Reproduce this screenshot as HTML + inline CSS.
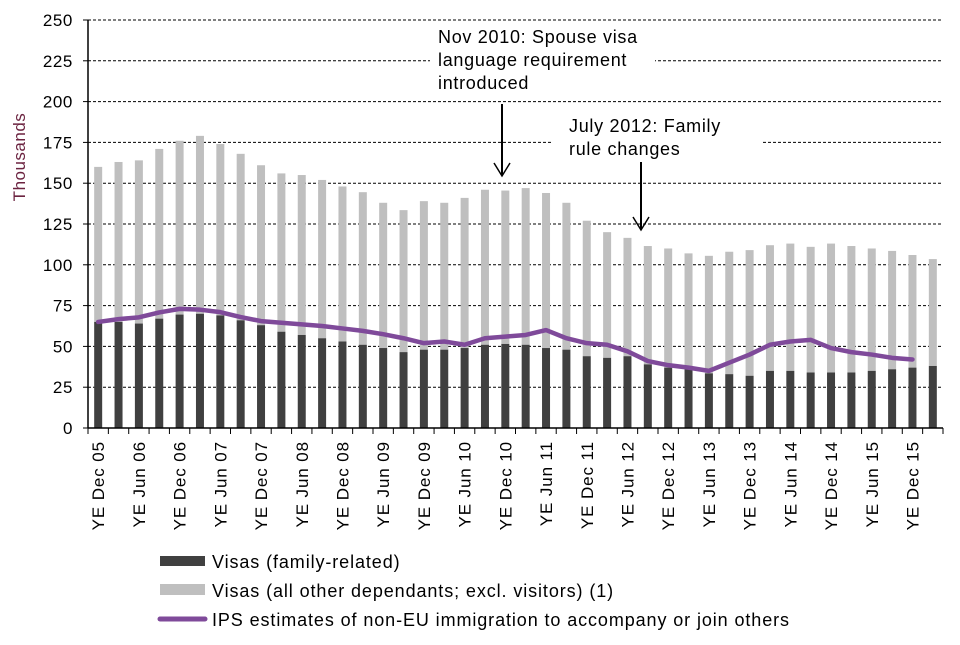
<!DOCTYPE html>
<html><head><meta charset="utf-8"><style>
body{margin:0;background:#fff;font-family:"Liberation Sans",Arial,sans-serif}
svg text{font-family:"Liberation Sans",Arial,sans-serif}
</style></head><body>
<svg id="chart" width="960" height="640" viewBox="0 0 960 640" xmlns="http://www.w3.org/2000/svg">
<g id="grid"></g>
<g id="bars"></g>
<g id="line"></g>
<g id="axes"></g>
<g font-size="18" letter-spacing="0.7">
<rect x="430" y="22" width="225" height="75" fill="#fff"/>
<text x="438" y="43">Nov 2010: Spouse visa</text>
<text x="438" y="66">language requirement</text>
<text x="438" y="89">introduced</text>
<line x1="502" y1="104" x2="502" y2="175" stroke="#000" stroke-width="2"/>
<polyline points="494,163 502,176 510,163" fill="none" stroke="#000" stroke-width="1.5"/>
</g>
<g font-size="18" letter-spacing="0.7">
<rect x="553" y="110" width="209" height="52" fill="#fff"/>
<text x="569" y="132">July 2012: Family</text>
<text x="569" y="155">rule changes</text>
<line x1="641" y1="162" x2="641" y2="229" stroke="#000" stroke-width="2"/>
<polyline points="633,217 641,230 649,217" fill="none" stroke="#000" stroke-width="1.5"/>
</g>
<text transform="translate(25,157) rotate(-90)" text-anchor="middle" font-size="17" letter-spacing="0.5" fill="#6b2340">Thousands</text>
<g font-size="18" letter-spacing="0.9">
<g><rect x="160" y="556" width="45" height="10" fill="#404040"/><text x="212" y="568">Visas (family-related)</text></g>
<g><rect x="160" y="584" width="45" height="11" fill="#bfbfbf"/><text x="212" y="597">Visas (all other dependants; excl. visitors) (1)</text></g>
<g><line x1="160" y1="619" x2="205" y2="619" stroke="#7f4a9a" stroke-width="5" stroke-linecap="round"/><text x="212" y="626">IPS estimates of non-EU immigration to accompany or join others</text></g>
</g>
</svg>
<script>
const totalVisas=[160,163,164,171,176,179,174,168,161,156,155,152,148,144.5,138,133.5,139,138,141,146,145.5,147,144,138,127,120,116.5,111.5,110,107,105.5,108,109,112,113,111,113,111.5,110,108.5,106,103.5];
const familyVisas=[65,65,64,67,69.5,70,69,66,63,59,57,55,53,51,49,46.5,48,48,49,51,51.5,51,49,48,44,43,44,39,37,36,33.5,33,32,35,35,34,34,34,35,36,37,38];
const ipsEstimates=[65,66.7,67.8,70.8,73,72.5,71,68,65.5,64.5,63.5,62.5,61,59.5,57.5,55,52,53,51,55,56,57,60,55,52,51,47,41,38.5,37,35,40,45,51,53,54,49,46.5,45,43,42,null];
const yTicks=[0,25,50,75,100,125,150,175,200,225,250];
const xLabels=["YE Dec 05","YE Jun 06","YE Dec 06","YE Jun 07","YE Dec 07","YE Jun 08","YE Dec 08","YE Jun 09","YE Dec 09","YE Jun 10","YE Dec 10","YE Jun 11","YE Dec 11","YE Jun 12","YE Dec 12","YE Jun 13","YE Dec 13","YE Jun 14","YE Dec 14","YE Jun 15","YE Dec 15"];
const NS="http://www.w3.org/2000/svg";
const X0=88,X1=943,Y0=428,Y1=20,N=totalVisas.length;
const step=(X1-X0)/N;
function xc(i){return X0+step*(i+0.5);}
function y(v){return Y0-(v/250)*(Y0-Y1);}
function mk(t,a,p){const e=document.createElementNS(NS,t);for(const k in a)e.setAttribute(k,a[k]);p.appendChild(e);return e;}
const grid=document.getElementById('grid'),bars=document.getElementById('bars'),line=document.getElementById('line'),axes=document.getElementById('axes');
yTicks.forEach(v=>{
 if(v>0){const g=mk('line',{x1:X0,x2:X1,y1:y(v),y2:y(v),stroke:'#000','stroke-width':1,'stroke-dasharray':'3,2'},grid);
 
 }
 const t=mk('text',{x:73,y:y(v)+6,'text-anchor':'end','font-size':17,'letter-spacing':0.6},axes);t.textContent=v;
 
 
 mk('line',{x1:X0-5,x2:X0,y1:y(v),y2:y(v),stroke:'#000'},axes);
});
for(let i=0;i<N;i++){
 const bw=8;
 const g=mk('rect',{x:xc(i)-bw/2,y:y(totalVisas[i]),width:bw,height:y(familyVisas[i])-y(totalVisas[i]),fill:'#bfbfbf'},bars);
 
 
 const d=mk('rect',{x:xc(i)-bw/2,y:y(familyVisas[i]),width:bw,height:Y0-y(familyVisas[i]),fill:'#404040'},bars);
 
 
}
let pts=[];ipsEstimates.forEach((v,i)=>{if(v!==null)pts.push(xc(i)+','+y(v));});
const pl=mk('polyline',{points:pts.join(' '),fill:'none',stroke:'#7f4a9a','stroke-width':4.5,'stroke-linejoin':'round','stroke-linecap':'round'},line);


mk('line',{x1:X0,x2:X0,y1:Y1,y2:Y0,stroke:'#000','stroke-width':1.5},axes);
mk('line',{x1:X0,x2:X1,y1:Y0,y2:Y0,stroke:'#000','stroke-width':1.5},axes);
for(let i=0;i<=N;i++)mk('line',{x1:X0+step*i,x2:X0+step*i,y1:Y0,y2:Y0+6,stroke:'#000'},axes);
xLabels.forEach((l,j)=>{
 const cx=xc(j*2);
 const t=mk('text',{transform:'translate('+(cx+6)+',441) rotate(-90)','text-anchor':'end','font-size':17,'letter-spacing':0.9},axes);
 t.textContent=l;
 
 
});
</script>
</body></html>
